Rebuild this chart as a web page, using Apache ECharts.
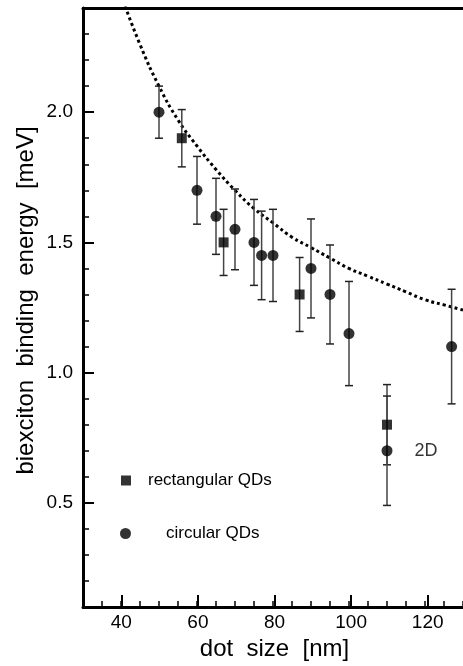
<!DOCTYPE html>
<html><head><meta charset="utf-8">
<script src="https://cdn.jsdelivr.net/npm/echarts@6/dist/echarts.min.js"></script>
<style>html,body{margin:0;padding:0;background:#fff}#c{width:463px;height:666px}</style>
</head><body><div id="c"></div>
<script>
// rectangular QDs
const squareX = [56, 67, 87, 110];
const squareY = [1.90, 1.50, 1.30, 0.80];
const squareErr = [0.11, 0.127, 0.142, 0.154];
// circular QDs
const circleX = [50, 60, 65, 70, 75, 77, 80, 90, 95, 100, 110, 127];
const circleY = [2.00, 1.70, 1.60, 1.55, 1.50, 1.45, 1.45, 1.40, 1.30, 1.15, 0.70, 1.10];
const circleErr = [0.10, 0.13, 0.146, 0.155, 0.165, 0.17, 0.177, 0.19, 0.19, 0.20, 0.21, 0.22];
// dotted theory curve
const curveX = [40, 45, 50, 55, 60, 65, 70, 75, 80, 85, 90, 95, 100, 105, 110, 115, 120, 125, 130];
const curveY = [2.45, 2.26, 2.10, 1.97, 1.87, 1.78, 1.70, 1.63, 1.575, 1.52, 1.48, 1.44, 1.40, 1.37, 1.34, 1.31, 1.28, 1.26, 1.24];
// tick labels
const xTickLabels = [40, 60, 80, 100, 120];
const yTickLabels = [0.5, 1.0, 1.5, 2.0];

const FONT = 'Liberation Sans';
const chart = echarts.init(document.getElementById('c'), null, {renderer: 'canvas'});

function errRender(params, api) {
  const x = api.value(0), y = api.value(1), e = api.value(2);
  const t = api.coord([x, y + e]), b = api.coord([x, y - e]);
  const hw = 4;
  return {type: 'group', children: [
    {type: 'line', shape: {x1: t[0], y1: t[1], x2: b[0], y2: b[1]}, style: {stroke: '#444', lineWidth: 1.5}},
    {type: 'line', shape: {x1: t[0] - hw, y1: t[1], x2: t[0] + hw, y2: t[1]}, style: {stroke: '#222', lineWidth: 1.5}},
    {type: 'line', shape: {x1: b[0] - hw, y1: b[1], x2: b[0] + hw, y2: b[1]}, style: {stroke: '#222', lineWidth: 1.5}}
  ]};
}

const axisLineStyle = {show: true, lineStyle: {color: '#000', width: 3}};
const circleData = circleX.map((x, i) => {
  const d = {value: [x, circleY[i]]};
  if (x === 110) d.label = {show: true, formatter: '2D', position: 'right', distance: 22,
    color: '#000', fontFamily: FONT, fontSize: 18};
  return d;
});

chart.setOption({
  animation: false,
  backgroundColor: '#fff',
  grid: [
    {left: 83, top: 8, width: 383, bottom: 59},
    {left: 121.3, top: 8, width: 306.4, bottom: 59},
    {left: 83, top: 112.2, width: 383, bottom: 163.2}
  ],
  legend: [
    {data: [{name: 'rectangular QDs', icon: 'rect'}], left: 116, top: 467, itemWidth: 10, itemHeight: 10,
     textStyle: {fontFamily: FONT, fontSize: 17, color: '#000', padding: [0, 0, 0, 12]}},
    {data: [{name: 'circular QDs', icon: 'circle'}], left: 115, top: 520, itemWidth: 11, itemHeight: 11,
     textStyle: {fontFamily: FONT, fontSize: 17, color: '#000', padding: [0, 0, 0, 30]}}
  ],
  xAxis: [
    {gridIndex: 0, type: 'value', min: 30, max: 130, interval: 5, axisLine: axisLineStyle,
     axisTick: {inside: true, length: 6, lineStyle: {color: '#000', width: 1.5}},
     axisLabel: {show: false}, splitLine: {show: false}},
    {gridIndex: 0, type: 'value', position: 'top', min: 30, max: 130, axisLine: axisLineStyle,
     axisTick: {show: false}, axisLabel: {show: false}, splitLine: {show: false}},
    {gridIndex: 1, type: 'value', min: xTickLabels[0], max: xTickLabels[xTickLabels.length - 1], interval: 20,
     axisLine: {show: false},
     axisTick: {inside: true, length: 11, lineStyle: {color: '#000', width: 2}},
     axisLabel: {fontFamily: FONT, fontSize: 19, color: '#000', margin: 7},
     splitLine: {show: false},
     name: 'dot  size  [nm]', nameLocation: 'middle', nameGap: 27,
     nameTextStyle: {fontFamily: FONT, fontSize: 24, color: '#000'}},
    {gridIndex: 2, type: 'value', min: 30, max: 130, show: false}
  ],
  yAxis: [
    {gridIndex: 0, type: 'value', min: 0.1, max: 2.4, interval: 0.1, axisLine: axisLineStyle,
     axisTick: {inside: true, length: 6, lineStyle: {color: '#000', width: 1.5}},
     axisLabel: {show: false}, splitLine: {show: false},
     name: 'biexciton  binding  energy  [meV]', nameLocation: 'middle', nameGap: 45,
     nameTextStyle: {fontFamily: FONT, fontSize: 24, color: '#000', padding: [0, 0, 0, 14]}},
    {gridIndex: 1, type: 'value', min: 0.1, max: 2.4, show: false},
    {gridIndex: 2, type: 'value', min: yTickLabels[0], max: yTickLabels[yTickLabels.length - 1], interval: 0.5,
     axisLine: {show: false},
     axisTick: {inside: true, length: 11, lineStyle: {color: '#000', width: 2}},
     axisLabel: {fontFamily: FONT, fontSize: 19, color: '#000', margin: 10,
       formatter: v => v.toFixed(1)},
     splitLine: {show: false}}
  ],
  series: [
    {type: 'line', name: 'theory', xAxisIndex: 0, yAxisIndex: 0, smooth: true, showSymbol: false,
     data: curveX.map((x, i) => [x, curveY[i]]),
     lineStyle: {color: '#000', width: 3, type: [3, 3]}, z: 1},
    {type: 'custom', name: 'sqErr', xAxisIndex: 0, yAxisIndex: 0, renderItem: errRender,
     data: squareX.map((x, i) => [x, squareY[i], squareErr[i]]), z: 2},
    {type: 'custom', name: 'ciErr', xAxisIndex: 0, yAxisIndex: 0, renderItem: errRender,
     data: circleX.map((x, i) => [x, circleY[i], circleErr[i]]), z: 2},
    {type: 'scatter', name: 'rectangular QDs', xAxisIndex: 0, yAxisIndex: 0, symbol: 'rect', symbolSize: 10,
     itemStyle: {color: '#000'}, data: squareX.map((x, i) => [x, squareY[i]]), z: 3},
    {type: 'scatter', name: 'circular QDs', xAxisIndex: 0, yAxisIndex: 0, symbol: 'circle', symbolSize: 11,
     itemStyle: {color: '#000'}, data: circleData, z: 3}
  ]
});
</script></body></html>
